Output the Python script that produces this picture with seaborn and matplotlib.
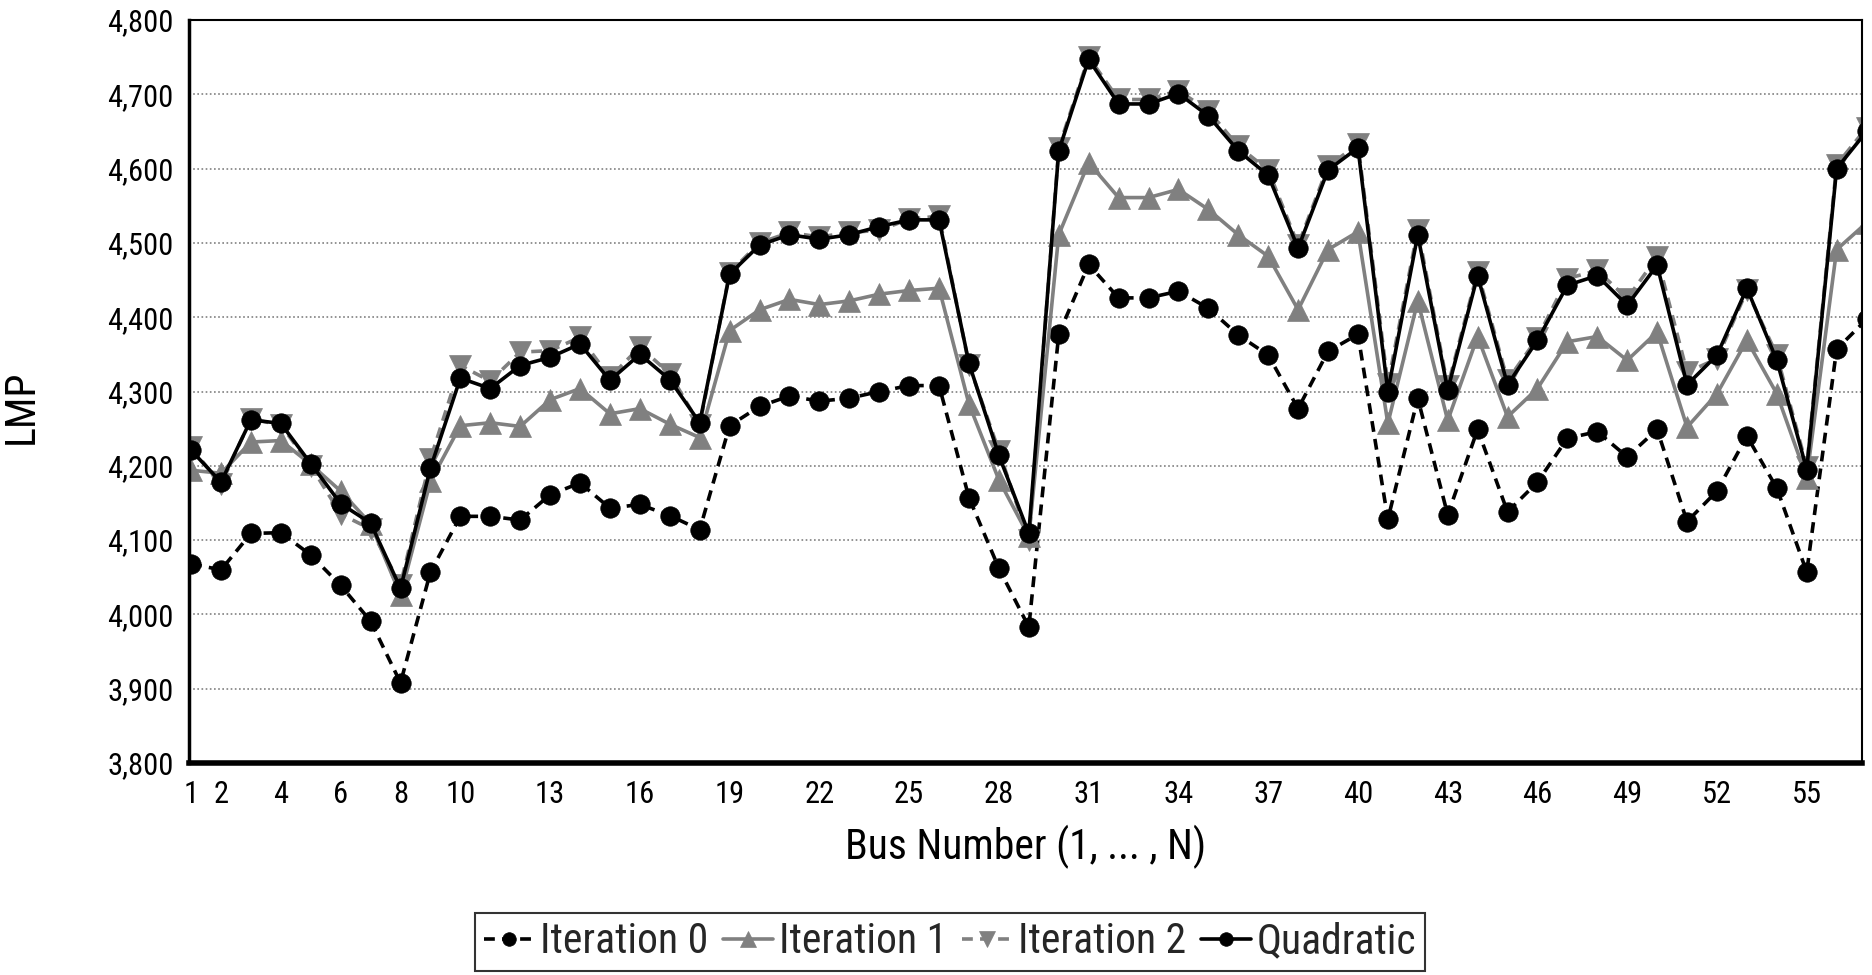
import numpy as np
import pandas as pd
import matplotlib
matplotlib.use("Agg")
import matplotlib.pyplot as plt
from matplotlib import font_manager
from matplotlib.ticker import FixedLocator, FuncFormatter
import seaborn as sns

# Bus indices of the IEEE 57-bus test system
buses = list(range(1, 58))

# LMP per bus for each solution
iteration_0 = [4068, 4060, 4109, 4110, 4080, 4039, 3991, 3908, 4057, 4132,
               4132, 4127, 4161, 4177, 4143, 4148, 4133, 4114, 4254, 4280,
               4294, 4287, 4291, 4300, 4308, 4308, 4157, 4062, 3983, 4377,
               4471, 4426, 4426, 4435, 4412, 4376, 4349, 4277, 4354, 4377,
               4128, 4291, 4134, 4249, 4138, 4178, 4237, 4246, 4212, 4249,
               4125, 4166, 4240, 4170, 4057, 4357, 4397]
iteration_1 = [4194, 4190, 4232, 4234, 4202, 4166, 4122, 4026, 4179, 4254,
               4258, 4253, 4289, 4304, 4270, 4277, 4256, 4238, 4382, 4410,
               4424, 4417, 4422, 4431, 4436, 4439, 4283, 4181, 4105, 4511,
               4608, 4561, 4561, 4572, 4545, 4511, 4482, 4410, 4491, 4515,
               4257, 4422, 4261, 4374, 4266, 4304, 4367, 4374, 4342, 4380,
               4252, 4297, 4369, 4297, 4184, 4491, 4527]
iteration_2 = [4225, 4175, 4263, 4255, 4200, 4135, 4115, 4040, 4209, 4335,
               4314, 4353, 4355, 4373, 4319, 4360, 4324, 4255, 4460, 4500,
               4514, 4508, 4514, 4517, 4532, 4536, 4336, 4220, 4100, 4628,
               4750, 4693, 4693, 4705, 4678, 4630, 4598, 4497, 4603, 4633,
               4310, 4518, 4307, 4461, 4315, 4372, 4452, 4463, 4425, 4481,
               4326, 4344, 4436, 4349, 4199, 4605, 4655]
quadratic = [4221, 4178, 4262, 4257, 4203, 4149, 4123, 4035, 4197, 4318,
             4304, 4335, 4346, 4364, 4315, 4350, 4316, 4258, 4458, 4497,
             4511, 4505, 4511, 4522, 4531, 4531, 4338, 4214, 4109, 4624,
             4747, 4687, 4687, 4701, 4671, 4624, 4591, 4493, 4598, 4628,
             4300, 4511, 4302, 4456, 4309, 4369, 4443, 4456, 4416, 4470,
             4309, 4349, 4439, 4342, 4195, 4600, 4650]

series_names = ["Iteration 0", "Iteration 1", "Iteration 2", "Quadratic"]
x_tick_labels = [1, 2, 4, 6, 8, 10, 13, 16, 19, 22, 25, 28, 31, 34, 37,
                 40, 43, 46, 49, 52, 55]
y_ticks = list(range(3800, 4801, 100))

sns.set_theme(style="white")

# Prefer a narrow sans face when one is available
fm = font_manager.fontManager
installed = {f.name for f in fm.ttflist}
font_stretch = "normal"
base_font = "Liberation Sans"
for cand in ("Liberation Sans Narrow", "Arial Narrow", "Roboto Condensed",
             "Open Sans Condensed", "Noto Sans Condensed"):
    if cand in installed:
        base_font = cand
        break
else:
    for fam in ("Roboto", "Noto Sans", "Open Sans", "DejaVu Sans"):
        if any(f.name == fam and f.stretch == "condensed" and f.weight in (400, "normal", "regular")
               for f in fm.ttflist):
            base_font = fam
            font_stretch = "condensed"
            break
plt.rcParams["font.family"] = [base_font, "DejaVu Sans"]
plt.rcParams["font.stretch"] = font_stretch

df = pd.DataFrame({
    "bus": buses * 4,
    "lmp": iteration_0 + iteration_1 + iteration_2 + quadratic,
    "series": sum([[n] * len(buses) for n in series_names], []),
})

GREY = "#808080"
styles = {
    "Iteration 0": dict(color="black", marker="o", linestyle=(0, (3.0, 2.0)), ms=14),
    "Iteration 1": dict(color=GREY, marker="^", linestyle="-", ms=16),
    "Iteration 2": dict(color=GREY, marker="v", linestyle=(0, (3.0, 2.0)), ms=16),
    "Quadratic": dict(color="black", marker="o", linestyle="-", ms=14),
}

fig = plt.figure(figsize=(18.72, 9.75), dpi=100)
ax = fig.add_axes([0.1008, 0.2174, 0.8939, 0.7621])

for name in series_names:
    st = styles[name]
    sub = df[df["series"] == name]
    sns.lineplot(data=sub, x="bus", y="lmp", ax=ax, color=st["color"],
                 marker=st["marker"], linestyle=st["linestyle"],
                 markersize=st["ms"], markeredgecolor=st["color"],
                 markeredgewidth=0.5, linewidth=2.6, label=name)

ax.set_xlim(0.92, 56.85)
ax.set_ylim(3800, 4800)

# Axis ticks
ax.set_xticks(x_tick_labels)
ax.set_xticklabels([str(v) for v in x_tick_labels])
minor_x = []
for a, b in zip(x_tick_labels[:-1], x_tick_labels[1:]):
    step = (b - a) / 4
    minor_x += [a + step * k for k in (1, 2, 3)]
minor_x += [55.25, 55.5, 55.75]
ax.xaxis.set_minor_locator(FixedLocator(minor_x))

ax.set_yticks(y_ticks)
ax.yaxis.set_major_formatter(FuncFormatter(lambda v, p: f"{int(v):,}"))
ax.yaxis.set_minor_locator(FixedLocator([v + d for v in y_ticks[:-1] for d in (25, 50, 75)]))

narrow = font_stretch == "condensed" or "Narrow" in base_font or "Condensed" in base_font
tick_size = 22 if narrow else 19
label_size = 30 if narrow else 26

ax.tick_params(axis="both", which="major", direction="out", length=8, width=1.5,
               color=GREY, labelsize=tick_size, labelcolor="black", pad=4)
ax.tick_params(axis="both", which="minor", direction="out", length=4, width=1.2,
               color=GREY)
ax.tick_params(axis="y", which="major", length=5, pad=6)

# Dotted horizontal grid
ax.yaxis.grid(True, linestyle=(0, (1, 1.5)), color=GREY, linewidth=1.2)
ax.xaxis.grid(False)

for side in ("top", "right"):
    ax.spines[side].set_color("black")
    ax.spines[side].set_linewidth(1.5)
ax.spines["left"].set_color("black")
ax.spines["left"].set_linewidth(2.5)
ax.spines["bottom"].set_color("black")
ax.spines["bottom"].set_linewidth(4)

ax.set_xlabel("Bus Number (1, ... , N)", fontsize=label_size, color="black")
ax.set_ylabel("LMP", fontsize=label_size, color="black")
ax.xaxis.set_label_coords(0.5, -0.083)
ax.yaxis.set_label_coords(-0.0876, 0.48)

ax.legend_.remove()
handles, labels = ax.get_legend_handles_labels()
leg = fig.legend(handles, labels, loc="upper center",
                 bbox_to_anchor=(0.5075, 0.0636), ncol=4, frameon=True,
                 fancybox=False, shadow=False, fontsize=label_size,
                 handlelength=1.2, handletextpad=0.15, columnspacing=0.35,
                 borderpad=0.2, borderaxespad=0, edgecolor="black",
                 markerscale=0.7)
leg.get_frame().set_linewidth(1.5)

fig.savefig("out.png", dpi=100)
